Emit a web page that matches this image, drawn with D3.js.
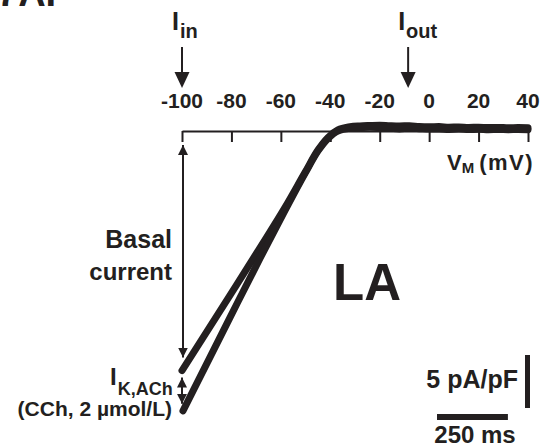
<!DOCTYPE html>
<html>
<head>
<meta charset="utf-8">
<script src="https://cdn.jsdelivr.net/npm/d3@7"></script>
<style>
  body { margin: 0; background: #fff; }
  svg { display: block; font-family: "Liberation Sans", Arial, sans-serif; font-weight: bold; }
</style>
</head>
<body>
<div id="chart"></div>
<script>
// voltage axis ticks (mV)
const vTicks = [-100, -80, -60, -40, -20, 0, 20, 40];

// basal ramp current (pA/pF) vs membrane voltage (mV)
const basalV = [-100, -80.6, -68.4, -58.3, -50.2, -45, -40.9, -36.9, -32, -28, -24, -20, -16, -12, -8, -4, 0, 4, 8, 12, 16, 20, 24, 28, 32, 36, 40];
const basalI = [-22.6, -15.5, -11.0, -7.2, -3.9, -1.8, -0.6, 0.1, 0.40, 0.48, 0.52, 0.55, 0.50, 0.47, 0.50, 0.42, 0.40, 0.42, 0.36, 0.38, 0.34, 0.36, 0.32, 0.34, 0.30, 0.32, 0.30];

// current with carbachol (CCh, 2 umol/L)
const cchV = [-99.6, -80.6, -68.4, -58.3, -50.2, -45, -40.9, -36.9, -32, -28, -24, -20, -16, -12, -8, -4, 0, 4, 8, 12, 16, 20, 24, 28, 32, 36, 40];
const cchI = [-26.4, -17.6, -12.0, -7.5, -4.0, -1.9, -0.7, 0.0, 0.25, 0.30, 0.35, 0.32, 0.28, 0.20, 0.25, 0.22, 0.18, 0.20, 0.15, 0.18, 0.14, 0.16, 0.12, 0.15, 0.12, 0.14, 0.12];

// arrows above the axis
const markerLabels = ["in", "out"];
const markerV = [-100, -8.5];

// scale bars
const scaleCurrent = 5;   // pA/pF
const scaleTime = 250;    // ms
const rampMs = 1220;      // duration of the -100..40 mV ramp

const width = 546, height = 447;
const ink = "#231f20";

const x = d3.scaleLinear([-100, 40], [182, 528]);
const y = d3.scaleLinear([0, -25], [131, 396]);
const t = d3.scaleLinear([0, rampMs], [182, 528]);

const svg = d3.select("#chart").append("svg")
  .attr("width", width)
  .attr("height", height);

svg.append("defs").append("marker")
  .attr("id", "head")
  .attr("viewBox", "0 0 10 10")
  .attr("refX", 10).attr("refY", 5)
  .attr("markerWidth", 10).attr("markerHeight", 11)
  .attr("markerUnits", "userSpaceOnUse")
  .attr("orient", "auto-start-reverse")
  .append("path")
  .attr("d", "M0,0L10,5L0,10Z")
  .attr("fill", ink);

// cut-off panel label at the top edge
svg.append("text")
  .attr("x", -3).attr("y", 6)
  .attr("font-size", 38)
  .attr("fill", ink)
  .text("7AI");

// axis line with ticks pointing down
const xAxis = d3.axisBottom(x)
  .tickValues(vTicks)
  .tickSizeInner(11)
  .tickSizeOuter(0)
  .tickFormat("");
const axisG = svg.append("g")
  .attr("transform", `translate(0,${y(0)})`)
  .call(xAxis);
axisG.selectAll("path, line").attr("stroke", ink).attr("stroke-width", 2);

// tick labels above
svg.append("g").selectAll("text")
  .data(vTicks)
  .join("text")
  .attr("x", d => x(d))
  .attr("y", 108)
  .attr("text-anchor", "middle")
  .attr("font-size", 21)
  .attr("fill", ink)
  .text(d => d);

// V_M (mV)
const vm = svg.append("text")
  .attr("x", 447).attr("y", 170)
  .attr("font-size", 22)
  .attr("fill", ink);
vm.append("tspan").text("V");
vm.append("tspan").attr("font-size", 15).attr("dy", 3).text("M");
vm.append("tspan").attr("dy", -3).attr("dx", 5).attr("letter-spacing", 1.5).text("(mV)");

// I_in / I_out arrows
markerV.forEach((v, i) => {
  const g = svg.append("g");
  const lbl = g.append("text")
    .attr("x", x(v) - 10).attr("y", 30)
    .attr("font-size", 25)
    .attr("fill", ink);
  lbl.append("tspan").text("I");
  lbl.append("tspan").attr("font-size", 20).attr("dy", 8).attr("dx", 1).text(markerLabels[i]);
  g.append("line")
    .attr("x1", x(v)).attr("x2", x(v))
    .attr("y1", 47).attr("y2", 74)
    .attr("stroke", ink).attr("stroke-width", 2);
  g.append("path")
    .attr("d", `M${x(v) - 7.5},72L${x(v) + 7.5},72L${x(v)},88Z`)
    .attr("fill", ink);
});

// traces
const line = d3.line()
  .x(d => x(d[0]))
  .y(d => y(d[1]))
  .curve(d3.curveMonotoneX);

const traces = [
  d3.zip(basalV, basalI),
  d3.zip(cchV, cchI)
];
svg.append("g").selectAll("path")
  .data(traces)
  .join("path")
  .attr("d", line)
  .attr("fill", "none")
  .attr("stroke", ink)
  .attr("stroke-width", 7)
  .attr("stroke-linecap", "round")
  .attr("stroke-linejoin", "round");

// basal current double arrow
const ax = x(-100) + 1;
const basalEnd = y(basalI[0]);
const cchEnd = y(cchI[0]);
svg.append("line")
  .attr("x1", ax).attr("x2", ax)
  .attr("y1", y(0) + 14).attr("y2", basalEnd - 13)
  .attr("stroke", ink).attr("stroke-width", 2)
  .attr("marker-start", "url(#head)")
  .attr("marker-end", "url(#head)");

// I_K,ACh double arrow
svg.append("line")
  .attr("x1", ax - 1).attr("x2", ax - 1)
  .attr("y1", basalEnd + 7).attr("y2", cchEnd - 7)
  .attr("stroke", ink).attr("stroke-width", 2)
  .attr("marker-start", "url(#head)")
  .attr("marker-end", "url(#head)");

// labels on the left
svg.append("text")
  .attr("x", 172).attr("y", 248)
  .attr("text-anchor", "end")
  .attr("font-size", 25).attr("fill", ink)
  .text("Basal");
svg.append("text")
  .attr("x", 172).attr("y", 280)
  .attr("text-anchor", "end")
  .attr("font-size", 24).attr("fill", ink)
  .text("current");

const ik = svg.append("text")
  .attr("x", 110).attr("y", 385)
  .attr("font-size", 24).attr("fill", ink);
ik.append("tspan").text("I");
ik.append("tspan").attr("font-size", 18).attr("dy", 10).attr("dx", 1).text("K,ACh");

svg.append("text")
  .attr("x", 172).attr("y", 416)
  .attr("text-anchor", "end")
  .attr("font-size", 21).attr("fill", ink)
  .text("(CCh, 2 µmol/L)");

// LA
svg.append("text")
  .attr("x", 333).attr("y", 300)
  .attr("font-size", 51).attr("fill", ink)
  .text("LA");

// scale bars
const vBarTop = 355;
svg.append("rect")
  .attr("x", 525).attr("y", vBarTop)
  .attr("width", 5)
  .attr("height", y(-scaleCurrent) - y(0))
  .attr("fill", ink);
svg.append("text")
  .attr("x", 518).attr("y", 388)
  .attr("text-anchor", "end")
  .attr("font-size", 25).attr("fill", ink)
  .text(`${scaleCurrent} pA/pF`);

svg.append("rect")
  .attr("x", 437).attr("y", 414)
  .attr("width", t(scaleTime) - t(0))
  .attr("height", 6)
  .attr("fill", ink);
svg.append("text")
  .attr("x", 475).attr("y", 443)
  .attr("text-anchor", "middle")
  .attr("font-size", 24).attr("fill", ink)
  .text(`${scaleTime} ms`);
</script>
</body>
</html>
